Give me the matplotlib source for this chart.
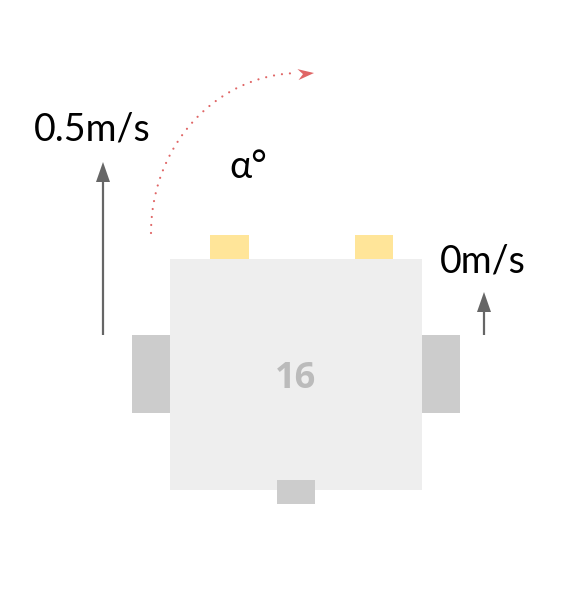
import matplotlib
matplotlib.use("Agg")
import matplotlib.pyplot as plt
import numpy as np
from matplotlib.patches import Rectangle, Polygon

# labels / values
robot_id = "16"
speed_labels = ["0.5m/s", "0m/s"]
angle_label = "\u03b1\u00b0"

# geometry in pixels (x0, y0, w, h), y grows downward
body = (170, 259, 252, 231)
wheels = [(132, 335, 38, 78), (422, 335, 38, 78)]
caster = (277, 480, 38, 24)
sensors = [(210, 235, 39, 24), (355, 235, 38, 24)]

# speed arrows: x, y_tail, y_tip
speed_arrows = [(103, 335, 162), (484, 335, 292)]
label_pos = [(34, 140), (440, 272)]

# turn arc (quarter ellipse)
arc_centre = (300, 233)
arc_radii = (149, 160)

c_body = "#eeeeee"
c_wheel = "#cccccc"
c_sensor = "#ffe599"
c_arrow = "#666666"
c_arc = "#e06666"
c_id = "#bbbbbb"

fig = plt.figure(figsize=(5.84, 6.0), dpi=100)
ax = fig.add_axes([0, 0, 1, 1])
ax.set_xlim(0, 584)
ax.set_ylim(600, 0)
ax.set_axis_off()

# robot body, wheels, caster, sensors
ax.add_patch(Rectangle(body[:2], body[2], body[3], fc=c_body, ec="none", zorder=2))
for w in wheels:
    ax.add_patch(Rectangle(w[:2], w[2], w[3], fc=c_wheel, ec="none", zorder=1))
ax.add_patch(Rectangle(caster[:2], caster[2], caster[3], fc=c_wheel, ec="none", zorder=3))
for s in sensors:
    ax.add_patch(Rectangle(s[:2], s[2], s[3], fc=c_sensor, ec="none", zorder=1))

ax.text(body[0] + body[2] / 2, 388, robot_id,
        fontsize=26, fontweight="bold", color=c_id, family="Open Sans",
        ha="center", va="baseline", zorder=3)

# speed arrows
head_len, head_w = 20, 14
for (x, y0, y1) in speed_arrows:
    ax.plot([x, x], [y0, y1 + head_len], color=c_arrow, lw=1.6,
            solid_capstyle="butt", zorder=3)
    ax.add_patch(Polygon([[x, y1], [x - head_w / 2, y1 + head_len],
                          [x + head_w / 2, y1 + head_len]],
                         closed=True, fc=c_arrow, ec="none", zorder=3))

for txt, (x, y) in zip(speed_labels, label_pos):
    ax.text(x, y, txt, fontsize=27, color="black", family=["Lato", "DejaVu Sans"],
            ha="left", va="baseline")

ax.text(229, 178, angle_label, fontsize=27, color="black",
        family=["Lato", "DejaVu Sans"], ha="left", va="baseline")

# dotted arc
t = np.linspace(np.pi, np.pi / 2 + 0.02, 200)
arc_x = arc_centre[0] + arc_radii[0] * np.cos(t)
arc_y = arc_centre[1] - arc_radii[1] * np.sin(t)
ax.plot(arc_x, arc_y, color=c_arc, lw=1.6, linestyle=(0, (0.01, 3.6)),
        dash_capstyle="round", zorder=3)

# arc arrow head
tip = np.array([314.0, 73.0])
base = np.array([299.0, 74.5])
d = (tip - base) / np.linalg.norm(tip - base)
n = np.array([-d[1], d[0]])
hw = 5.5
ax.add_patch(Polygon([tip, base + n * hw - d * 1, base + d * 4, base - n * hw - d * 1],
                     closed=True, fc=c_arc, ec="none", zorder=3))

fig.savefig("out.png", dpi=100, facecolor="white")
